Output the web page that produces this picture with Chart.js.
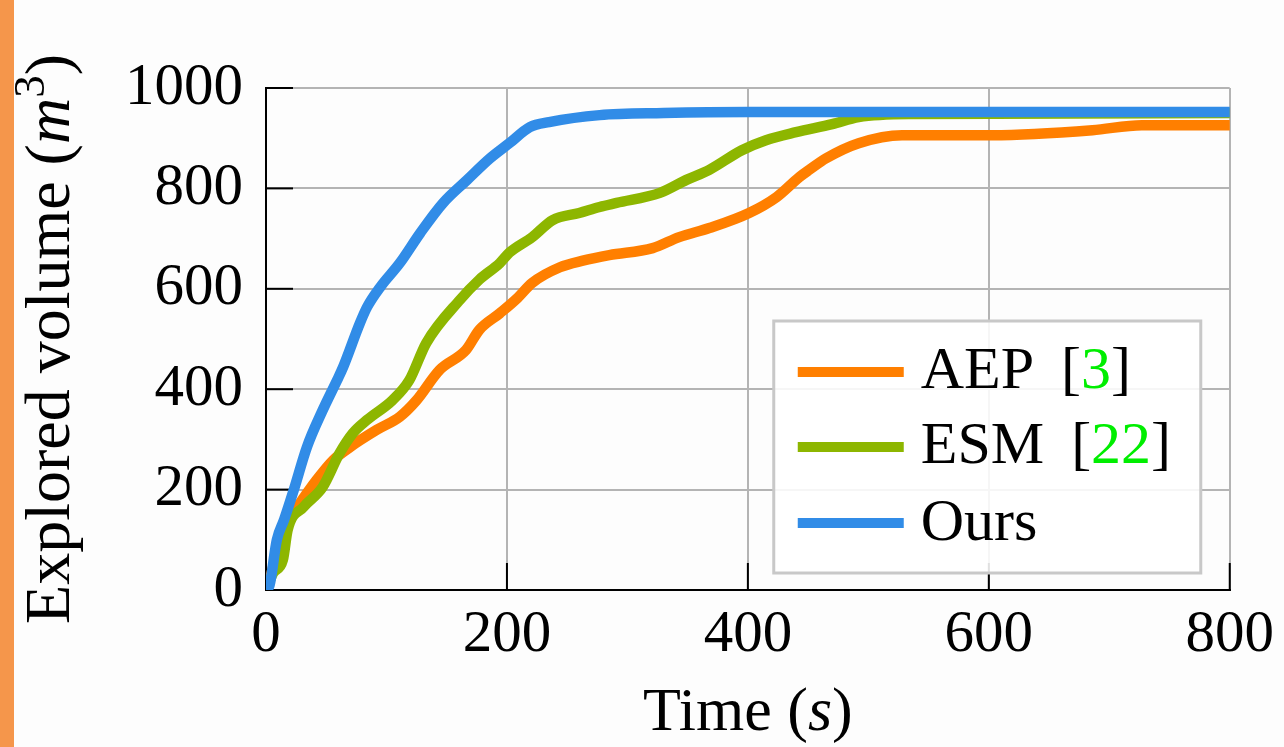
<!DOCTYPE html>
<html>
<head>
<meta charset="utf-8">
<script src="https://cdn.jsdelivr.net/npm/chart.js@4.4.0/dist/chart.umd.min.js"></script>
<style>
  html, body { margin: 0; padding: 0; background: #fdfdfd; }
  #wrap { position: relative; width: 1284px; height: 747px; overflow: hidden; }
  #strip { position: absolute; left: 0; top: 0; width: 14px; height: 747px; background: #f5964b; }
  canvas { position: absolute; left: 0; top: 0; }
</style>
</head>
<body>
<div id="wrap">
  <canvas id="volChart" width="1284" height="747"></canvas>
  <div id="strip"></div>
</div>
<script>
// values: time in s, explored volume in m^3
const aepTime = [0, 3, 14, 26, 42, 56, 70, 92, 111, 125, 144, 166, 177, 194, 208, 221, 244, 263, 285, 321, 343, 368, 401, 424, 443, 451, 465, 492, 528, 603, 686, 727, 800];
const aepVol  = [0, 20, 120, 165, 219, 259, 285, 319, 345, 378, 438, 478, 518, 551, 580, 612, 643, 656, 667, 681, 703, 721, 751, 783, 823, 837, 860, 890, 906, 906, 916, 926, 926];

const esmTime = [0, 6, 14, 18, 31, 47, 61, 72, 84, 105, 119, 133, 161, 177, 194, 202, 221, 238, 260, 277, 291, 327, 349, 368, 395, 415, 440, 470, 492, 534, 800];
const esmVol  = [0, 34, 60, 120, 165, 205, 272, 312, 339, 378, 418, 492, 578, 618, 651, 672, 703, 737, 751, 763, 771, 791, 817, 837, 876, 896, 912, 928, 942, 948, 950];

const oursTime = [0, 3, 9, 15, 23, 34, 47, 59, 64, 78, 84, 95, 111, 128, 147, 167, 186, 202, 219, 235, 277, 330, 400, 600, 800];
const oursVol  = [0, 10, 100, 140, 199, 285, 358, 418, 444, 532, 564, 604, 651, 711, 771, 817, 860, 890, 922, 932, 946, 950, 952, 952, 952];

const timeTicks = [0, 200, 400, 600, 800];
const volTicks  = [0, 200, 400, 600, 800, 1000];

const SERIF = '"Liberation Serif", "DejaVu Serif", serif';
const colors = { aep: '#ff7f00', esm: '#8db600', ours: '#318ce7' };

const toPoints = (xs, ys) => xs.map((x, i) => ({ x, y: ys[i] }));

function lineSet(label, xs, ys, color, order) {
  return {
    label,
    data: toPoints(xs, ys),
    borderColor: color,
    backgroundColor: color,
    borderWidth: 10.5,
    borderJoinStyle: 'round',
    borderCapStyle: 'round',
    cubicInterpolationMode: 'monotone',
    pointRadius: 0,
    fill: false,
    order,
  };
}

// legend entries, with the citation numbers in green like the paper
const legendRows = [
  { color: colors.aep,  parts: [['AEP \u2009[', '#000'], ['3', '#00ee00'], [']', '#000']] },
  { color: colors.esm,  parts: [['ESM \u2009[', '#000'], ['22', '#00ee00'], [']', '#000']] },
  { color: colors.ours, parts: [['Ours', '#000']] },
];

function drawRuns(ctx, runs, x, y) {
  runs.forEach(r => {
    ctx.font = r.font;
    ctx.fillStyle = r.color || '#000';
    ctx.fillText(r.text, x, y + (r.dy || 0));
    x += ctx.measureText(r.text).width;
  });
}

function runsWidth(ctx, runs) {
  return runs.reduce((w, r) => { ctx.font = r.font; return w + ctx.measureText(r.text).width; }, 0);
}

const extras = {
  id: 'extras',
  beforeDatasetsDraw(chart) {
    const ctx = chart.ctx, a = chart.chartArea;
    const xs = chart.scales.x, ys = chart.scales.y;
    ctx.save();
    ctx.strokeStyle = '#000';
    ctx.lineWidth = 2;
    volTicks.forEach(v => {
      const py = ys.getPixelForValue(v);
      ctx.beginPath(); ctx.moveTo(a.left, py); ctx.lineTo(a.left + 27, py); ctx.stroke();
    });
    timeTicks.forEach(t => {
      const px = xs.getPixelForValue(t);
      ctx.beginPath(); ctx.moveTo(px, a.bottom); ctx.lineTo(px, a.bottom - 27); ctx.stroke();
    });
    ctx.restore();
  },
  afterDatasetsDraw(chart) {
    const ctx = chart.ctx, a = chart.chartArea;
    ctx.save();

    // legend box, bottom right
    const w = 427, h = 252;
    const x0 = a.right - 29 - w, y0 = a.bottom - 17 - h;
    ctx.fillStyle = 'rgba(255,255,255,0.88)';
    ctx.fillRect(x0, y0, w, h);
    ctx.strokeStyle = '#c8c8c8';
    ctx.lineWidth = 3;
    ctx.strokeRect(x0, y0, w, h);

    const rowY = [51, 126, 202];
    const baseY = [67, 142, 219];
    ctx.textBaseline = 'alphabetic';
    ctx.textAlign = 'left';
    legendRows.forEach((row, i) => {
      ctx.strokeStyle = row.color;
      ctx.lineWidth = 10;
      ctx.lineCap = 'butt';
      ctx.beginPath();
      ctx.moveTo(x0 + 24, y0 + rowY[i]);
      ctx.lineTo(x0 + 130, y0 + rowY[i]);
      ctx.stroke();
      const runs = row.parts.map(([text, color]) => ({ text, color, font: '60px ' + SERIF }));
      drawRuns(ctx, runs, x0 + 147, y0 + baseY[i]);
    });

    // axis titles
    const xRuns = [
      { text: 'Time (', font: '62px ' + SERIF },
      { text: 's', font: 'italic 62px ' + SERIF },
      { text: ')', font: '62px ' + SERIF },
    ];
    const xw = runsWidth(ctx, xRuns);
    drawRuns(ctx, xRuns, (a.left + a.right) / 2 - xw / 2, 730);

    const yRuns = [
      { text: 'Explored volume (', font: '64px ' + SERIF },
      { text: 'm', font: 'italic 64px ' + SERIF },
      { text: '3', font: '45px ' + SERIF, dy: -25 },
      { text: ')', font: '64px ' + SERIF },
    ];
    const yw = runsWidth(ctx, yRuns);
    ctx.translate(69, (a.top + a.bottom) / 2);
    ctx.rotate(-Math.PI / 2);
    drawRuns(ctx, yRuns, -yw / 2, 0);

    ctx.restore();
  }
};

new Chart(document.getElementById('volChart'), {
  type: 'line',
  data: {
    datasets: [
      lineSet('AEP [3]', aepTime, aepVol, colors.aep, 2),
      lineSet('ESM [22]', esmTime, esmVol, colors.esm, 1),
      lineSet('Ours', oursTime, oursVol, colors.ours, 0),
    ]
  },
  options: {
    responsive: false,
    devicePixelRatio: 1,
    animation: false,
    layout: { padding: { left: 0, top: 88, right: 53, bottom: 0 } },
    plugins: { legend: { display: false }, tooltip: { enabled: false } },
    scales: {
      x: {
        type: 'linear', min: 0, max: 800,
        afterBuildTicks: s => { s.ticks = timeTicks.map(value => ({ value })); },
        afterFit: s => { s.height = 157; },
        grid: { color: '#b4b4b4', lineWidth: 2, drawTicks: false },
        border: { color: '#000', width: 2 },
        ticks: { color: '#000', padding: 10, maxRotation: 0, font: { family: SERIF, size: 59 }, callback: v => String(v) },
      },
      y: {
        min: 0, max: 1000,
        afterBuildTicks: s => { s.ticks = volTicks.map(value => ({ value })); },
        afterFit: s => { s.width = 266; },
        grid: { color: '#b4b4b4', lineWidth: 2, drawTicks: false },
        border: { color: '#000', width: 2 },
        ticks: { color: '#000', padding: 23, font: { family: SERIF, size: 59 }, callback: v => String(v) },
      }
    }
  },
  plugins: [extras]
});
</script>
</body>
</html>
